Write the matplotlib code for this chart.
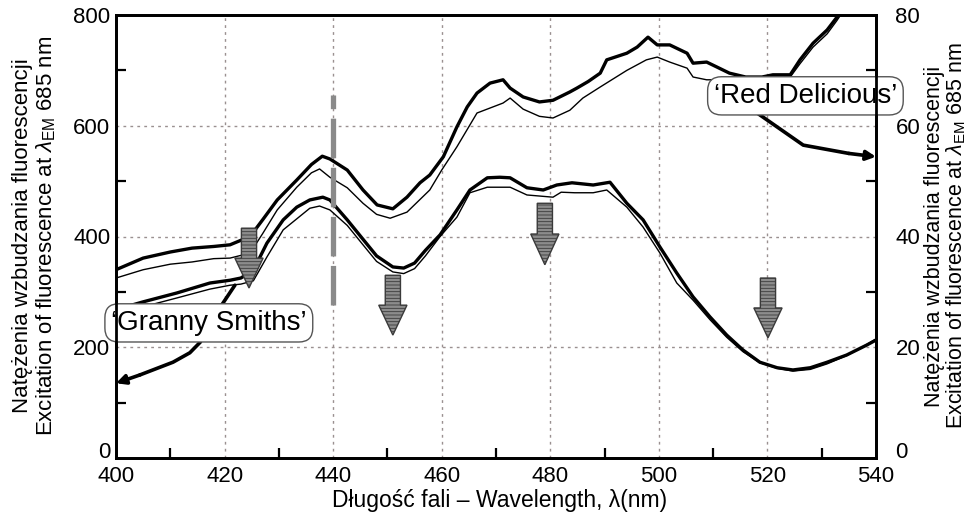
import matplotlib
matplotlib.use("Agg")
import matplotlib.pyplot as plt
import matplotlib.transforms as mtransforms
from matplotlib.patches import FancyArrow

plt.rcParams['font.family'] = ['Liberation Sans', 'DejaVu Sans']
plt.rcParams['mathtext.fontset'] = 'custom'
plt.rcParams['mathtext.rm'] = 'Liberation Sans'
plt.rcParams['mathtext.it'] = 'Liberation Sans:italic'
plt.rcParams['hatch.linewidth'] = 0.6

# ---- data ----
rd_thick_x = [400, 405, 410, 414, 418, 421, 424.7, 427, 429.7, 433.3, 436, 438, 439.4, 442.6, 445.5,
              448.1, 451, 453.6, 456, 457.8, 460.3, 462.8, 464.7, 466.5, 468.9, 471.3, 472.6, 475, 478,
              480.5, 483.6, 484.9, 487, 489.2, 490.4, 494.1, 496, 498, 499.7, 502, 505.2, 506.3, 508.8,
              510.7, 513, 516, 519, 521, 524.2, 526, 528.4, 531, 532.8, 534]
rd_thick_y = [340, 361, 372, 379, 382, 385, 400, 430, 466, 502, 530, 545, 540, 520, 484,
              457, 450, 471, 497, 511, 544, 598, 634, 659, 677, 683, 668, 652, 643,
              646, 661, 668, 680, 695, 719, 731, 742, 760, 746, 746, 731, 713, 715,
              706, 695, 688, 688, 692, 692, 719, 749, 773, 796, 815]

rd_thin_x = [400, 405, 410, 414, 418, 421, 424.7, 427, 429.7, 433.3, 436, 437.5, 439.4, 442.6, 445.5,
             448, 450.5, 453.6, 457.8, 460, 462.8, 466.5, 471.3, 472.6, 475, 478, 480.5, 483.6, 486,
             489.2, 494.1, 497.7, 499.7, 502, 505.2, 506.3, 508.8, 510.7, 514, 518, 521, 524.2, 526,
             528.4, 531, 532.8, 534.5]
rd_thin_y = [325, 340, 350, 354, 360, 361, 370, 405, 448, 489, 515, 522, 507, 488, 460,
             440, 433, 444, 484, 520, 562, 623, 641, 650, 630, 617, 614, 628, 650,
             670, 700, 719, 724, 715, 704, 688, 683, 683, 675, 675, 685, 688, 712,
             742, 766, 790, 815]

gs_thick_x = [400, 405, 411.2, 417.3, 421, 423, 425.3, 427.8, 430.8, 433.3, 435.7, 438.1, 439.4, 442.6,
              445.5, 448, 451, 453, 455, 457, 459.7, 462.8, 465.2, 468.4, 470.7, 472.6, 475.7, 478.7,
              481.2, 484, 487.9, 491, 494.1, 497.1, 500.2, 503.3, 506.3, 509.4, 512.5, 515.5, 518.6,
              521.8, 524.7, 527.9, 531, 534.6, 538.3, 540]
gs_thick_y = [268, 282, 298, 316, 321, 325, 339, 388, 430, 453, 466, 471, 466, 430,
              395, 365, 345, 343, 352, 375, 403, 448, 484, 506, 507, 506, 488, 484,
              493, 497, 493, 498, 460, 430, 381, 334, 291, 255, 222, 195, 173,
              163, 159, 163, 173, 186, 204, 213]

gs_thin_x = [400, 405, 411.2, 417.3, 421, 423, 425.3, 427.8, 430.8, 435.7, 437.5, 439.4, 442.6, 445.5,
             448, 451, 453, 455, 457, 459.7, 462.8, 465.2, 468.4, 472.6, 475.7, 480.5, 482, 484.5,
             487.9, 490.4, 494.1, 497.1, 500.2, 503.3, 506.3, 509.4, 512.5, 515.5, 518.6, 521.8,
             524.7, 527.9, 531, 534.6, 538.3, 540]
gs_thin_y = [262, 273, 289, 305, 312, 314, 320, 363, 412, 451, 455, 448, 420, 385,
             355, 336, 333, 342, 365, 400, 435, 479, 489, 489, 475, 471, 480, 479,
             479, 484, 453, 417, 370, 316, 285, 250, 218, 192, 172, 162,
             157, 160, 170, 185, 205, 215]

# block arrows: x position, top value, tip value
arrow_x = [424.5, 451.0, 479.0, 520.1]
arrow_top = [415, 330, 460, 325]
arrow_tip = [307, 222, 349, 217]

# vertical marker at 440 nm
marker_x = 440
marker_y = [276, 655]

# annotation labels
gs_label = "\u2018Granny Smiths\u2019"
gs_label_pos = (417.1, 244)
gs_path_x = [421.9, 418.5, 415.5, 413.6, 410.5, 404.4]
gs_path_y = [312, 262, 209, 190, 173, 150]
gs_head = (400, 135)

rd_label = "\u2018Red Delicious\u2019"
rd_label_pos = (527.0, 654)
rd_path_x = [513.0, 518.1, 526.6, 535]
rd_path_y = [662, 623, 565, 550]
rd_head = (540, 544)

x_ticks = [400, 420, 440, 460, 480, 500, 520, 540]
x_minor = [410, 430, 450, 470, 490, 510, 530]
y_ticks = [0, 200, 400, 600, 800]
y_minor = [100, 300, 500, 700]
y2_ticks = [0, 20, 40, 60, 80]
y2_minor = [10, 30, 50, 70]

ylabel_text = "Nat\u0119\u017cenia wzbudzania fluorescencji\nExcitation of fluorescence at $\\lambda_{\\rm EM}$ 685 nm"
xlabel_text = "D\u0142ugo\u015b\u0107 fali \u2013 Wavelength, \u03bb(nm)"

# ---- figure ----
fig = plt.figure(figsize=(9.67, 5.13), dpi=100)
ax = fig.add_axes([116/967, 1-458/513, 760/967, 443/513])
ax.set_xlim(400, 540)
ax.set_ylim(0, 800)

ax.set_xticks(x_ticks)
ax.set_yticks(y_ticks)
ax.set_xticks(x_minor, minor=True)
ax.set_yticks(y_minor, minor=True)
ax.tick_params(which='major', length=0, labelsize=16, pad=4)
ax.tick_params(axis='x', which='major', pad=6)
ax.tick_params(which='minor', direction='in', length=7, width=1.6)
ax.grid(True, which='major', linestyle=(0, (2, 3)), color='#9a9090', linewidth=1.0)
for s in ax.spines.values():
    s.set_linewidth(2.0)

ax2 = ax.twinx()
ax2.set_ylim(0, 80)
ax2.set_yticks(y2_ticks)
ax2.set_yticks(y2_minor, minor=True)
ax2.tick_params(which='major', length=0, labelsize=16, pad=14)
ax2.tick_params(which='minor', direction='in', length=7, width=1.6)
for s in ax2.spines.values():
    s.set_linewidth(2.0)

# raise the bottom "0" labels slightly, as in the reference
fig.canvas.draw()
for a in (ax, ax2):
    lab0 = a.yaxis.get_major_ticks()[0]
    for lbl in (lab0.label1, lab0.label2):
        lbl.set_transform(lbl.get_transform() +
                          mtransforms.ScaledTranslation(0, 6/72, fig.dpi_scale_trans))

# curves
ax.plot(rd_thick_x, rd_thick_y, color='black', lw=2.4, zorder=3)
ax.plot(rd_thin_x, rd_thin_y, color='black', lw=1.0, zorder=3)
ax.plot(gs_thick_x, gs_thick_y, color='black', lw=2.4, zorder=3)
ax.plot(gs_thin_x, gs_thin_y, color='black', lw=1.0, zorder=3)

# dashed marker line
ax.plot([marker_x, marker_x], marker_y, color='#8a8a8a', lw=3.8,
        linestyle=(0, (7.5, 1.8)), solid_capstyle='butt', zorder=4)

# block arrows
for x, top, tip in zip(arrow_x, arrow_top, arrow_tip):
    length = tip - top
    arr = FancyArrow(x, top, 0, length, width=2.8, head_width=5.2,
                     head_length=abs(length) * 0.5, length_includes_head=True,
                     facecolor='#8c8c8c', edgecolor='#3a3a3a', hatch='-----', lw=1.0, zorder=5)
    ax.add_patch(arr)

# annotation arrows
ax.plot(gs_path_x, gs_path_y, color='black', lw=2.6, zorder=6, solid_capstyle='round')
ax.annotate('', xy=gs_head, xytext=(gs_path_x[-1], gs_path_y[-1]),
            arrowprops=dict(arrowstyle='-|>', color='black', lw=2.6, mutation_scale=14,
                            shrinkA=0, shrinkB=0), zorder=6, annotation_clip=False)
ax.plot(rd_path_x, rd_path_y, color='black', lw=2.6, zorder=6, solid_capstyle='round')
ax.annotate('', xy=rd_head, xytext=(rd_path_x[-1], rd_path_y[-1]),
            arrowprops=dict(arrowstyle='-|>', color='black', lw=2.6, mutation_scale=14,
                            shrinkA=0, shrinkB=0), zorder=6, annotation_clip=False)

bbox = dict(boxstyle='round,pad=0.22,rounding_size=0.5', fc='white', ec='#555555', lw=1.0)
t1 = ax.text(*gs_label_pos, gs_label, fontsize=20, ha='center', va='center', bbox=bbox, zorder=8)
t1.set_clip_on(False)
t2 = ax.text(*rd_label_pos, rd_label, fontsize=20, ha='center', va='center', bbox=bbox, zorder=8)
t2.set_clip_on(False)

# axis labels
fig.text(35/967, 1-236/513, ylabel_text, rotation=90, ha='center', va='center',
         fontsize=16, linespacing=1.12)
fig.text(946/967, 1-236/513, ylabel_text, rotation=90, ha='center', va='center',
         fontsize=15.5, linespacing=1.02)
fig.text(500/967, 1-501/513, xlabel_text, ha='center', va='center', fontsize=16.5)

fig.savefig('out.png', dpi=100)
